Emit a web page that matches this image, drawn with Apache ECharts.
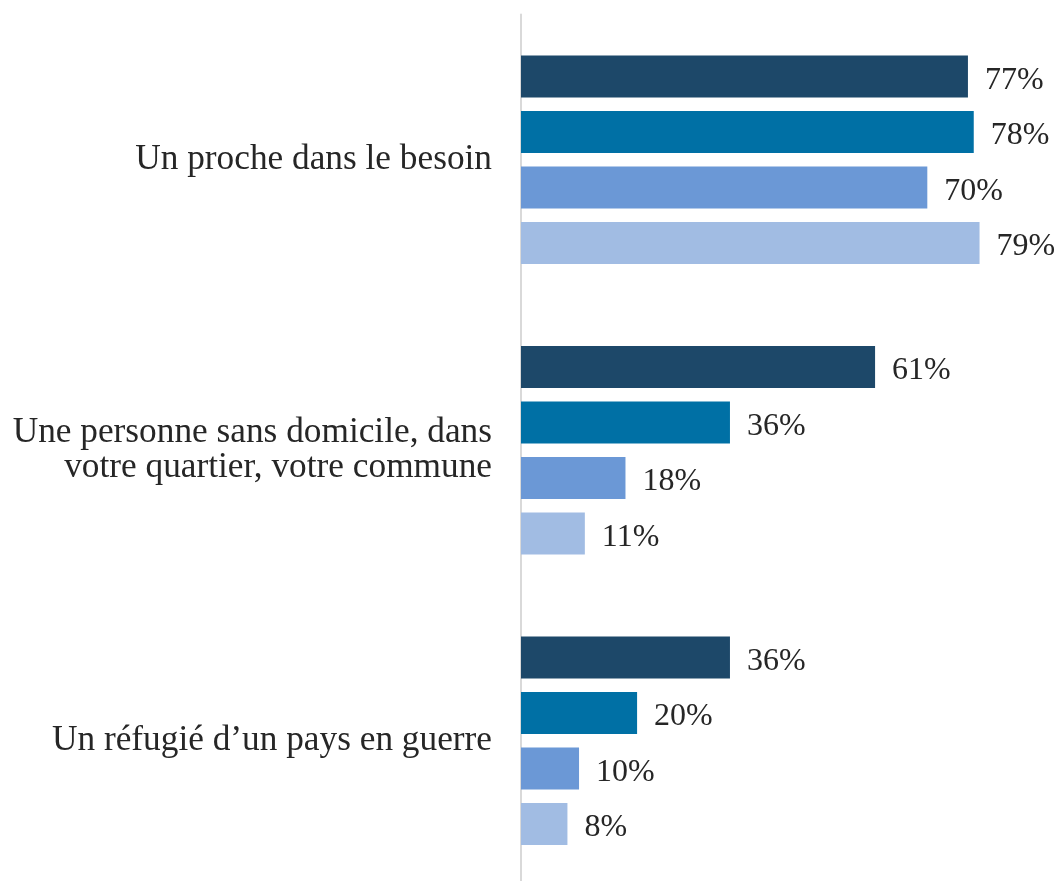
<!DOCTYPE html>
<html><head><meta charset="utf-8">
<script src="https://cdn.jsdelivr.net/npm/echarts@6/dist/echarts.min.js"></script>
<style>html,body{margin:0;padding:0;background:#fff}#c{width:1057px;height:881px}</style>
</head><body><div id="c"></div>
<script>
const categories = ["Un proche dans le besoin", "Une personne sans domicile, dans\nvotre quartier, votre commune", "Un réfugié d’un pays en guerre"];
const seriesA = [77, 61, 36];
const seriesB = [78, 36, 20];
const seriesC = [70, 18, 10];
const seriesD = [79, 11, 8];
const colors = ["#1D4869", "#0070A5", "#6B98D6", "#A1BCE3"];
const allSeries = [seriesA, seriesB, seriesC, seriesD];
const font = "'Liberation Serif', serif";
const chart = echarts.init(document.getElementById('c'), null, {renderer: 'canvas'});
chart.setOption({
  animation: false,
  grid: {left: 521, top: 14.5, width: 522.4, height: 871.5, containLabel: false, outerBoundsMode: 'none'},
  xAxis: {type: 'value', min: 0, max: 90, show: false},
  yAxis: {type: 'category', data: categories, inverse: true,
    axisLine: {show: true, lineStyle: {color: '#D9D9D9', width: 2}},
    axisTick: {show: false},
    axisLabel: {margin: 29, fontFamily: font, fontSize: 35.3, color: '#262626', lineHeight: 35, align: 'right', padding: [8, 0, 0, 0]}
  },
  series: allSeries.map((d, i) => ({
    type: 'bar', data: d, barWidth: 42, barGap: '32%',
    itemStyle: {color: colors[i]},
    label: {show: true, position: 'right', distance: 17, offset: [0, 4], formatter: '{c}%', fontFamily: font, fontSize: 32, color: '#262626'}
  }))
});
</script></body></html>
